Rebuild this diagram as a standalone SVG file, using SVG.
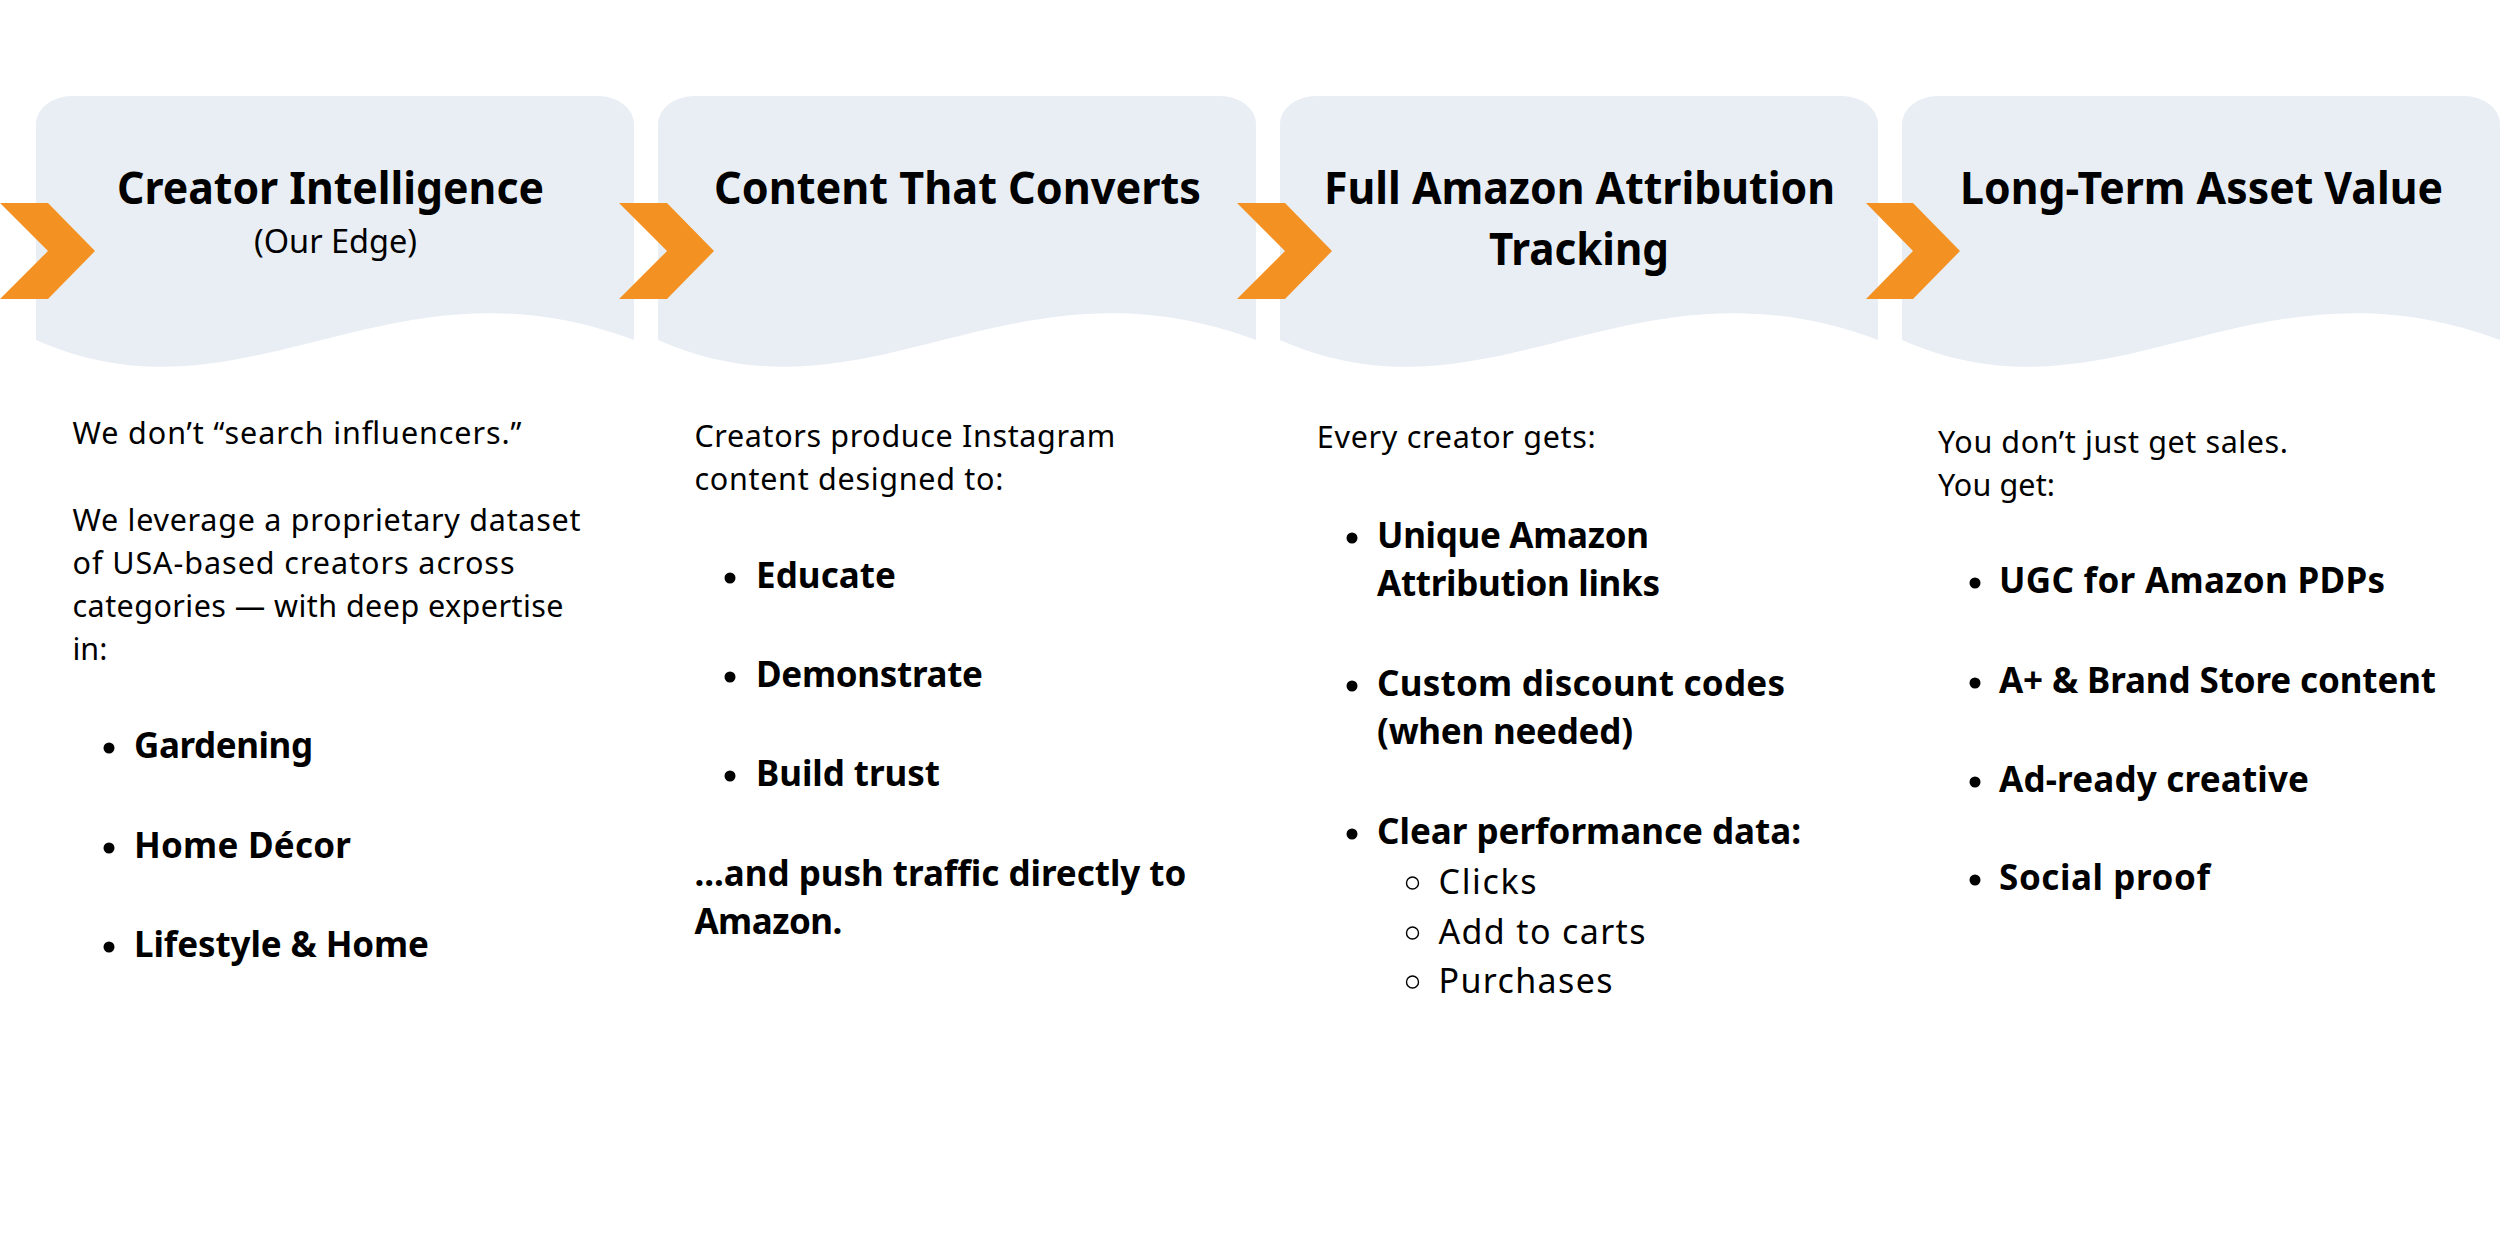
<svg xmlns="http://www.w3.org/2000/svg" width="2500" height="1250" viewBox="0 0 2500 1250">
<style>
.card{fill:#E9EEF5}
.chev{fill:#F39223}
.t{font-family:"Noto Sans","Open Sans",sans-serif;font-weight:700;font-size:44px;fill:#000}
.st{font-family:"Noto Sans","Open Sans",sans-serif;font-weight:400;font-size:32px;fill:#000}
.b{font-family:"Noto Sans","Open Sans",sans-serif;font-weight:400;font-size:30.5px;fill:#000}
.bb{font-family:"Noto Sans","Open Sans",sans-serif;font-weight:700;font-size:35px;fill:#000}
.s{font-family:"Noto Sans","Open Sans",sans-serif;font-weight:400;font-size:34px;fill:#000}
.dot{fill:#000}
.ring{fill:none;stroke:#000;stroke-width:1.4}
</style>
<rect width="2500" height="1250" fill="#FFFFFF"/>

<g id="node-creator-intelligence">
<path class="card" d="M36,124 A36,28 0 0 1 72,96 H598 A36,28 0 0 1 634,124 V340 C386,247 247,433 36,340 Z"/>
<text class="t" x="117" y="204" textLength="427" lengthAdjust="spacingAndGlyphs">Creator Intelligence</text>
<text class="st" x="254" y="253" textLength="163" lengthAdjust="spacingAndGlyphs">(Our Edge)</text>
<text class="b" x="72.5" y="444" textLength="449">We don’t “search influencers.”</text>
<text class="b" x="72.5" y="531" textLength="508">We leverage a proprietary dataset</text>
<text class="b" x="72.5" y="574" textLength="442">of USA-based creators across</text>
<text class="b" x="72.5" y="617" textLength="491">categories — with deep expertise</text>
<text class="b" x="72.5" y="660">in:</text>
<circle class="dot" cx="109" cy="748" r="5.5"/>
<text class="bb" x="134" y="758" textLength="179">Gardening</text>
<circle class="dot" cx="109" cy="848" r="5.5"/>
<text class="bb" x="134" y="858" textLength="217">Home Décor</text>
<circle class="dot" cx="109" cy="947" r="5.5"/>
<text class="bb" x="134" y="957" textLength="295">Lifestyle &amp; Home</text>
</g>

<g id="node-content-that-converts">
<path class="card" d="M658,124 A36,28 0 0 1 694,96 H1220 A36,28 0 0 1 1256,124 V340 C1008,247 869,433 658,340 Z"/>
<text class="t" x="714" y="204" textLength="487" lengthAdjust="spacingAndGlyphs">Content That Converts</text>
<text class="b" x="694.4" y="447" textLength="421">Creators produce Instagram</text>
<text class="b" x="694.4" y="490" textLength="309">content designed to:</text>
<circle class="dot" cx="730" cy="578" r="5.5"/>
<text class="bb" x="756" y="588" textLength="140">Educate</text>
<circle class="dot" cx="730" cy="677" r="5.5"/>
<text class="bb" x="756" y="687" textLength="227">Demonstrate</text>
<circle class="dot" cx="730" cy="776" r="5.5"/>
<text class="bb" x="756" y="786" textLength="184">Build trust</text>
<text class="bb" x="694.4" y="886" textLength="492">...and push traffic directly to</text>
<text class="bb" x="694.4" y="934" textLength="148">Amazon.</text>
</g>

<g id="node-full-amazon-attribution">
<path class="card" d="M1280,124 A36,28 0 0 1 1316,96 H1842 A36,28 0 0 1 1878,124 V340 C1630,247 1491,433 1280,340 Z"/>
<text class="t" x="1324" y="204" textLength="511" lengthAdjust="spacingAndGlyphs">Full Amazon Attribution</text>
<text class="t" x="1489" y="265" textLength="180" lengthAdjust="spacingAndGlyphs">Tracking</text>
<text class="b" x="1316.8" y="448" textLength="279">Every creator gets:</text>
<circle class="dot" cx="1352" cy="538" r="5.5"/>
<text class="bb" x="1377" y="548" textLength="272">Unique Amazon</text>
<text class="bb" x="1377" y="596" textLength="283">Attribution links</text>
<circle class="dot" cx="1352" cy="686" r="5.5"/>
<text class="bb" x="1377" y="696" textLength="408">Custom discount codes</text>
<text class="bb" x="1377" y="744" textLength="256">(when needed)</text>
<circle class="dot" cx="1352" cy="834" r="5.5"/>
<text class="bb" x="1377" y="844" textLength="424">Clear performance data:</text>
<circle class="ring" cx="1412.5" cy="883" r="6"/>
<text class="s" x="1438.5" y="894" textLength="98">Clicks</text>
<circle class="ring" cx="1412.5" cy="933" r="6"/>
<text class="s" x="1438.5" y="944" textLength="207">Add to carts</text>
<circle class="ring" cx="1412.5" cy="982" r="6"/>
<text class="s" x="1438.5" y="993" textLength="174">Purchases</text>
</g>

<g id="node-long-term-asset-value">
<path class="card" d="M1902,124 A36,28 0 0 1 1938,96 H2464 A36,28 0 0 1 2500,124 V340 C2252,247 2113,433 1902,340 Z"/>
<text class="t" x="1960" y="204" textLength="483" lengthAdjust="spacingAndGlyphs">Long-Term Asset Value</text>
<text class="b" x="1938" y="453" textLength="350">You don’t just get sales.</text>
<text class="b" x="1938" y="496" textLength="117">You get:</text>
<circle class="dot" cx="1975" cy="583" r="5.5"/>
<text class="bb" x="1999" y="593" textLength="386">UGC for Amazon PDPs</text>
<circle class="dot" cx="1975" cy="683" r="5.5"/>
<text class="bb" x="1999" y="693" textLength="437">A+ &amp; Brand Store content</text>
<circle class="dot" cx="1975" cy="782" r="5.5"/>
<text class="bb" x="1999" y="792" textLength="310">Ad-ready creative</text>
<circle class="dot" cx="1975" cy="880" r="5.5"/>
<text class="bb" x="1999" y="890" textLength="211">Social proof</text>
</g>

<g id="connectors">
<polygon class="chev" points="0,203 48,203 95,251 48,299 0,299 48,251"/>
<polygon class="chev" points="619,203 667,203 714,251 667,299 619,299 667,251"/>
<polygon class="chev" points="1237,203 1285,203 1332,251 1285,299 1237,299 1285,251"/>
<polygon class="chev" points="1866,203 1913,203 1960,251 1913,299 1866,299 1913,251"/>
</g>
</svg>
